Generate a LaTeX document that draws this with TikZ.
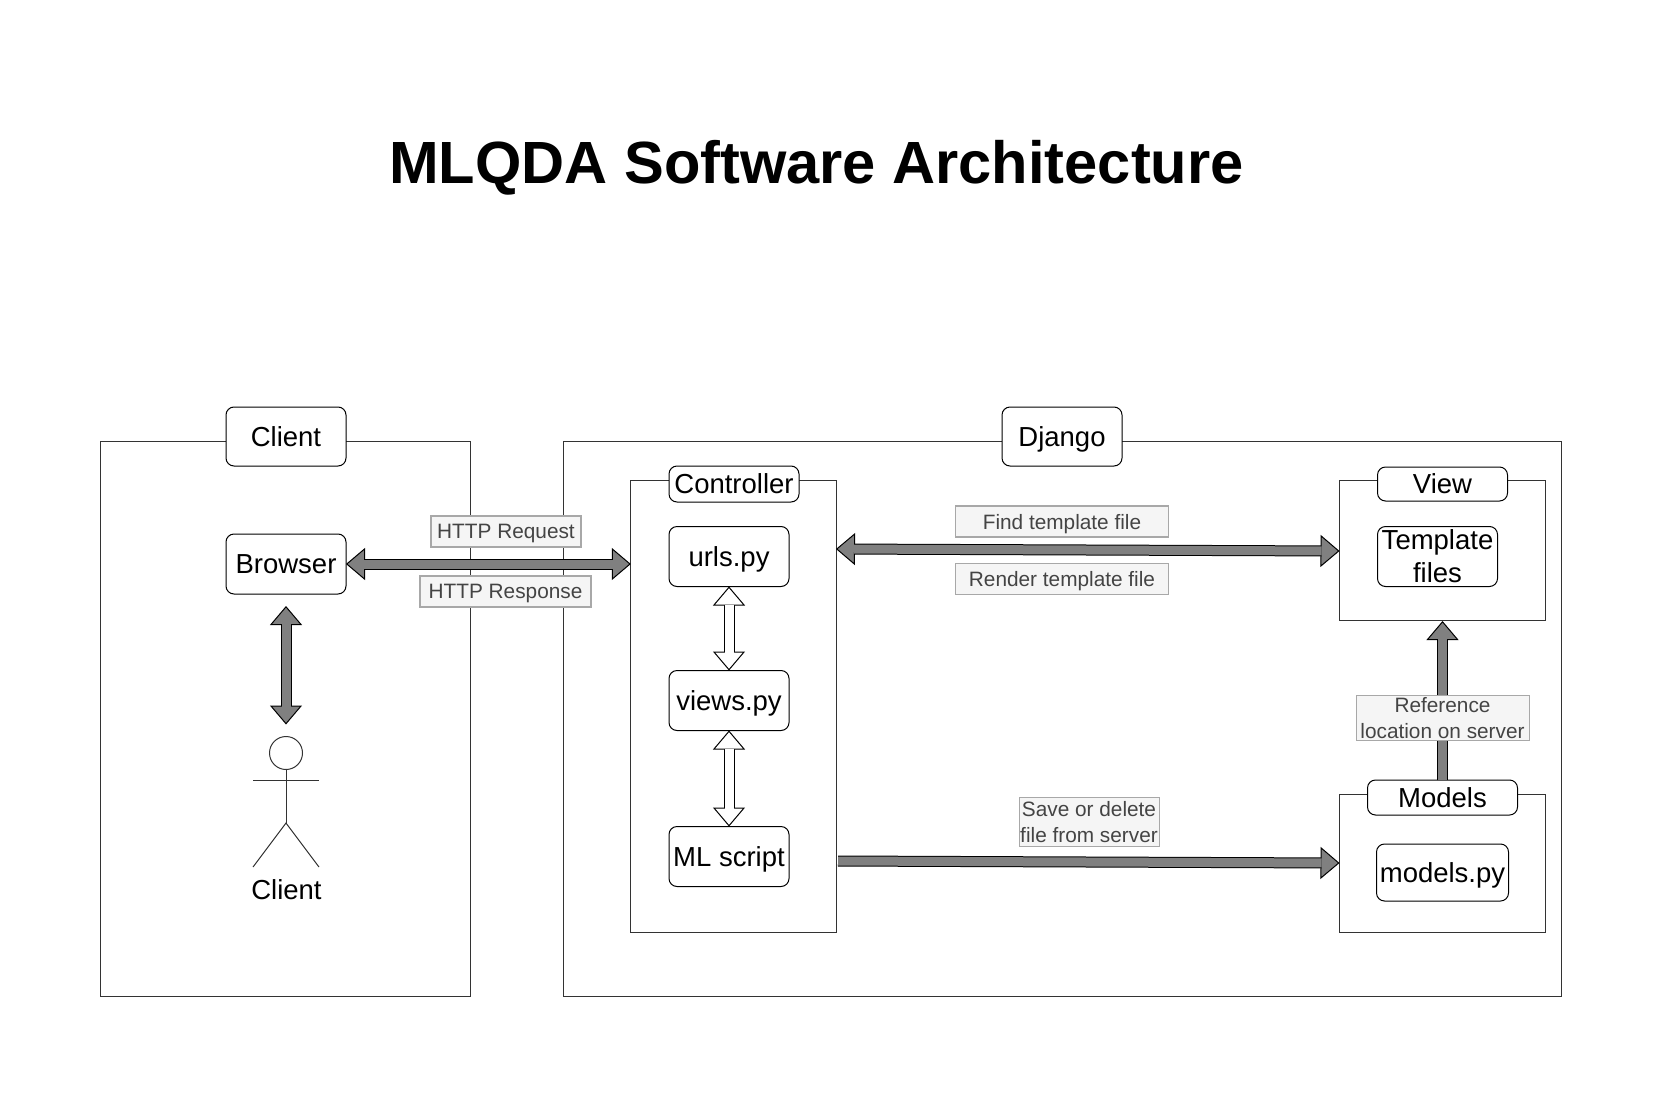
\documentclass[tikz,border=0pt]{standalone}
\usepackage{fontspec}
\setmainfont{Liberation Sans}
\usetikzlibrary{arrows.meta}
\definecolor{arrowgray}{HTML}{808080}
\definecolor{linegray}{HTML}{333333}
\definecolor{notefill}{HTML}{F5F5F5}
\definecolor{notetext}{HTML}{444444}
\definecolor{noteline}{HTML}{A8A8A8}
\tikzset{
  framebox/.style={draw=linegray,line width=1pt,inner sep=0pt,outer sep=0pt},
  roundbox/.style={draw=black,fill=white,line width=1pt,rounded corners=8pt,inner sep=0pt,outer sep=0pt,align=center,text depth=0pt,font=\fontsize{27.5}{33}\selectfont},
  note/.style={draw=noteline,fill=notefill,text=notetext,line width=1.2pt,inner sep=0pt,outer sep=0pt,align=center,text depth=0pt,font=\fontsize{20.8}{26}\selectfont},
  fatboth/.style={line width=11pt,draw=black,arrows={{Triangle[length=19pt,width=32pt,line width=1pt,fill=#1,color=black]}-{Triangle[length=19pt,width=32pt,line width=1pt,fill=#1,color=black]}},
    postaction={draw=#1,line width=9pt,arrows=-,shorten >=18pt,shorten <=18pt}},
  fatone/.style={line width=11pt,draw=black,arrows={-{Triangle[length=19pt,width=32pt,line width=1pt,fill=arrowgray,color=black]}},
    postaction={draw=arrowgray,line width=9pt,arrows=-,shorten >=18pt}},
  actorline/.style={draw=linegray,line width=1pt},
}
\begin{document}
\begin{tikzpicture}[x=1pt,y=-1pt]
\useasboundingbox (0,0) rectangle (1661,1097);
% title
\node[font=\fontsize{59.6}{70}\selectfont\bfseries,inner sep=0pt] (title) at (816.5,168) {MLQDA Software Architecture};
% frames
\node[framebox,minimum width=370pt,minimum height=555pt] (clientframe) at (285.8,718.8) {};
\node[framebox,minimum width=998pt,minimum height=555pt] (djangoframe) at (1062,718.8) {};
\node[framebox,minimum width=206pt,minimum height=452pt] (controllerframe) at (733.8,706) {};
\node[framebox,minimum width=206pt,minimum height=140pt] (viewframe) at (1442.5,550.8) {};
\node[framebox,minimum width=206pt,minimum height=138pt] (modelsframe) at (1442.5,863) {};
% header labels
\node[roundbox,minimum width=120pt,minimum height=59pt] (clienthead) at (286,436.5) {Client};
\node[roundbox,minimum width=120pt,minimum height=59pt] (djangohead) at (1062,436.5) {Django};
\node[roundbox,minimum width=130pt,minimum height=36pt] (controllerhead) at (734,484) {Controller};
\node[roundbox,minimum width=130pt,minimum height=34pt] (viewhead) at (1442.5,484) {View};
\node[roundbox,minimum width=150pt,minimum height=35pt] (modelshead) at (1442.5,797.5) {Models};
% inner boxes
\node[roundbox,minimum width=120pt,minimum height=60pt] (browser) at (286,564) {Browser};
\node[roundbox,minimum width=120pt,minimum height=60pt] (urls) at (729,556.5) {urls.py};
\node[roundbox,minimum width=120pt,minimum height=60pt] (views) at (729,700.5) {views.py};
\node[roundbox,minimum width=120pt,minimum height=60pt] (mlscript) at (729,856.5) {ML script};
\node[roundbox,minimum width=120pt,minimum height=60pt] (template) at (1437.5,556.5) {Template\\files};
\node[roundbox,minimum width=132pt,minimum height=57pt] (modelspy) at (1442.5,872.5) {models.py};
% actor
\node[draw=linegray,fill=white,circle,line width=1pt,minimum size=33pt,inner sep=0pt,outer sep=0pt] (head) at (286,753) {};
\coordinate (armL) at (253,780);
\coordinate (armR) at (319,780);
\coordinate (hip) at (286,823);
\coordinate (legL) at (253,867);
\coordinate (legR) at (319,867);
\draw[actorline] (head.south) -- (hip);
\draw[actorline] (armL) -- (armR);
\draw[actorline] (legL) -- (hip) -- (legR);
\node[inner sep=0pt,font=\fontsize{27.5}{33}\selectfont] (actorname) at (286.5,890) {Client};
% connector ends
\coordinate (browserArrowTop) at (286,606);
\coordinate (actorArrowEnd) at (286,724.5);
\coordinate (reqEnd) at (controllerframe.west |- browser.east);
\coordinate (findStart) at (836,549);
\coordinate (findEnd) at (1339.5,551);
\coordinate (saveStart) at (838,861);
\coordinate (saveEnd) at (1339.5,863);
\coordinate (refStart) at (modelshead.north);
\coordinate (refEnd) at (1442.5,621);
% connectors
\draw[fatboth=arrowgray] (browser.east) -- (reqEnd);
\draw[fatboth=arrowgray] (browserArrowTop) -- (actorArrowEnd);
\draw[fatboth=arrowgray] (findStart) -- (findEnd);
\draw[fatone] (saveStart) -- (saveEnd);
\draw[fatone] (refStart) -- (refEnd);
\draw[fatboth=white] (urls.south) -- (views.north);
\draw[fatboth=white] (views.south) -- (mlscript.north);
% edge notes
\node[note,minimum width=150pt,minimum height=31pt] (httpreq) at (506,531.5) {HTTP Request};
\node[note,minimum width=171pt,minimum height=31pt] (httpresp) at (505.5,591.5) {HTTP Response};
\node[note,minimum width=213pt,minimum height=31pt] (findnote) at (1062,521.5) {Find template file};
\node[note,minimum width=213pt,minimum height=31pt] (rendernote) at (1062,579) {Render template file};
\node[note,line width=1pt,text depth=-2pt,minimum width=140pt,minimum height=49pt] (savenote) at (1089,821.5) {Save or delete\\file from server};
\node[note,line width=1pt,text depth=-3pt,minimum width=173pt,minimum height=45pt] (refnote) at (1442.5,717.5) {Reference\\location on server};
\end{tikzpicture}
\end{document}
